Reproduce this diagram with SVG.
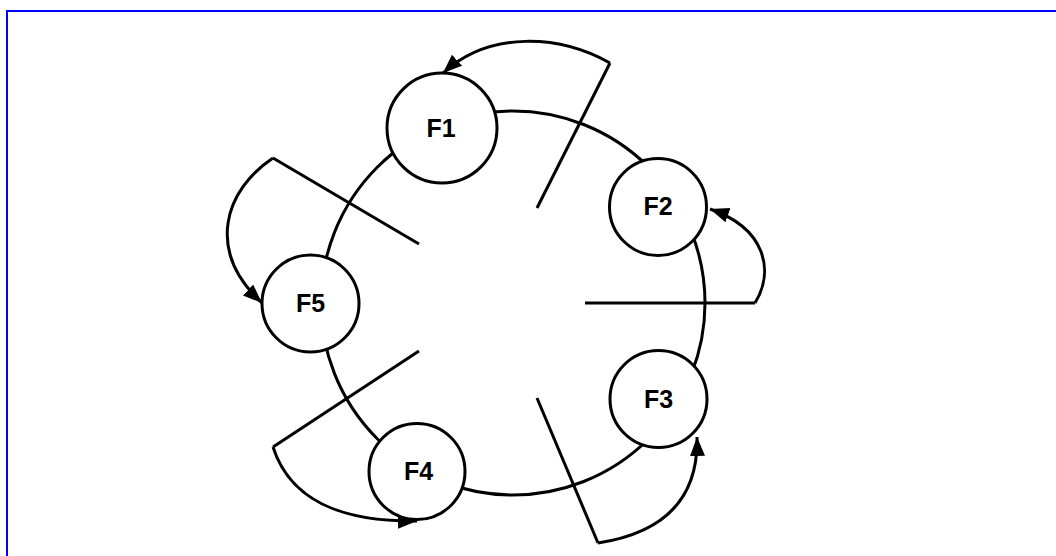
<svg xmlns="http://www.w3.org/2000/svg" width="1056" height="556" viewBox="0 0 1056 556">
<style>
.ring{fill:none;stroke:#000;stroke-width:3}
.node circle{fill:#fff;stroke:#000;stroke-width:3}
.node text{font-family:"Liberation Sans",Arial,sans-serif;font-weight:bold;font-size:25px;text-anchor:middle;fill:#000}
.conn line,.conn path{fill:none;stroke:#000;stroke-width:3}
.conn path{marker-end:url(#arr)}
</style>
<defs>
<marker id="arr" markerUnits="userSpaceOnUse" markerWidth="20" markerHeight="16" refX="19" refY="7.5" orient="auto">
<path d="M0,0 L19,7.5 L0,15 Z" fill="#000"/>
</marker>
</defs>
<rect x="7" y="11" width="1100" height="600" fill="#fff" stroke="#0000ff" stroke-width="2"/>
<circle class="ring" cx="513" cy="303" r="192"/>
<g class="conn" id="connectors">
<line x1="537" y1="208" x2="610" y2="63"/>
<path d="M610,63 C560,35 490,30 443,73"/>
<line x1="585" y1="303" x2="755" y2="303"/>
<path d="M755,303 C775,270 765,228 710,209"/>
<line x1="537" y1="398" x2="598" y2="543"/>
<path d="M598,543 C650,535 699,510 697,437"/>
<line x1="419" y1="351" x2="273" y2="447"/>
<path d="M273,447 C290,500 340,522 417,521"/>
<line x1="419" y1="244" x2="273" y2="158"/>
<path d="M273,158 C225,190 205,250 262,303"/>
</g>
<g class="node" id="F1"><circle cx="442" cy="128" r="55"/><text x="441" y="137">F1</text></g>
<g class="node" id="F2"><circle cx="658" cy="207" r="48.5"/><text x="658" y="215">F2</text></g>
<g class="node" id="F3"><circle cx="658.5" cy="399" r="48.5"/><text x="658.5" y="408">F3</text></g>
<g class="node" id="F4"><circle cx="417" cy="471.5" r="48"/><text x="418.5" y="480">F4</text></g>
<g class="node" id="F5"><circle cx="310.5" cy="303.5" r="48.5"/><text x="310.5" y="312">F5</text></g>
</svg>
